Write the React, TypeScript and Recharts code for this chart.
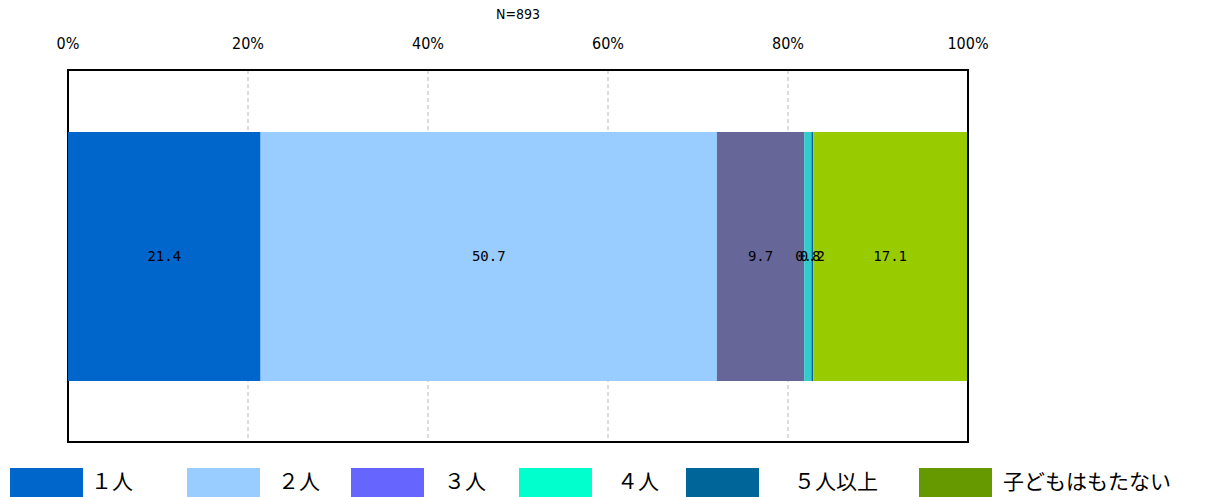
import { BarChart, Bar, XAxis, YAxis, CartesianGrid, LabelList, ReferenceArea } from "recharts";

// number of children, share of respondents (%)
const categories = ["１人", "２人", "３人", "４人", "５人以上", "子どもはもたない"];
const shares = [21.4, 50.7, 9.7, 0.8, 0.2, 17.1];
const barColors = ["#0066CC", "#99CCFF", "#666699", "#33CCCC", "#006699", "#99CC00"];
const legendColors = ["#0066CC", "#99CCFF", "#6666FF", "#00FFCC", "#006699", "#669900"];
const xTicks = [0, 20, 40, 60, 80, 100];
const sampleLabel = "N=893";

const keys = categories.map((_, i) => `s${i}`);
const rows = [
  Object.fromEntries([["name", "all"], ...keys.map((k, i) => [k, shares[i]])]),
];

// legend swatch / text positions along the bottom
const legendItems = [
  { box: 10, text: 91 },
  { box: 187, text: 278 },
  { box: 351, text: 444 },
  { box: 519, text: 617 },
  { box: 686, text: 794 },
  { box: 919, text: 1003 },
];

const gothic = "'Liberation Sans Narrow', 'DejaVu Sans Condensed', 'Noto Sans CJK JP', sans-serif";

export default function App() {
  return (
    <div style={{ position: "absolute", left: 0, top: 0, width: 1208, height: 497, background: "#fff", overflow: "hidden" }}>
      <div
        style={{
          position: "absolute",
          left: 68,
          width: 900,
          top: 6,
          textAlign: "center",
          fontFamily: gothic,
          fontSize: 14,
        }}
      >
        {sampleLabel}
      </div>
      <BarChart
        layout="vertical"
        width={1208}
        height={497}
        data={rows}
        margin={{ top: 0, right: 240, bottom: 55, left: 68 }}
        style={{ position: "absolute", left: 0, top: 0 }}
      >
        <CartesianGrid horizontal={false} stroke="#b8b8b8" strokeDasharray="4 3" />
        {/* plot frame, drawn under the bars */}
        <ReferenceArea x1={0} x2={100} fill="none" stroke="#000" strokeWidth={2} ifOverflow="visible" />
        <XAxis
          type="number"
          orientation="top"
          domain={[0, 100]}
          ticks={xTicks}
          tickFormatter={(v) => `${v}%`}
          height={70}
          tickLine={false}
          tickMargin={15}
          axisLine={false}
          tick={{ fill: "#000", fontSize: 16, fontFamily: gothic }}
        />
        <YAxis type="category" dataKey="name" hide />
        {keys.map((k, i) => (
          <Bar key={k} dataKey={k} stackId="a" fill={barColors[i]} barSize={249} isAnimationActive={false}>
            <LabelList
              dataKey={k}
              position="center"
              formatter={(v: number) => v.toFixed(1)}
              fill="#000"
              fontSize={14}
              fontFamily="'DejaVu Sans Mono', monospace"
            />
          </Bar>
        ))}
      </BarChart>
      {legendItems.map((p, i) => (
        <div key={categories[i]}>
          <div
            style={{
              position: "absolute",
              left: p.box,
              top: 468,
              width: 73,
              height: 32,
              background: legendColors[i],
            }}
          />
          <div
            style={{
              position: "absolute",
              left: p.text,
              top: 467,
              fontSize: 21,
              lineHeight: "30px",
              fontFamily: "'Liberation Serif', 'Noto Sans CJK JP', serif",
              color: "#000",
              whiteSpace: "nowrap",
            }}
          >
            {categories[i]}
          </div>
        </div>
      ))}
    </div>
  );
}
